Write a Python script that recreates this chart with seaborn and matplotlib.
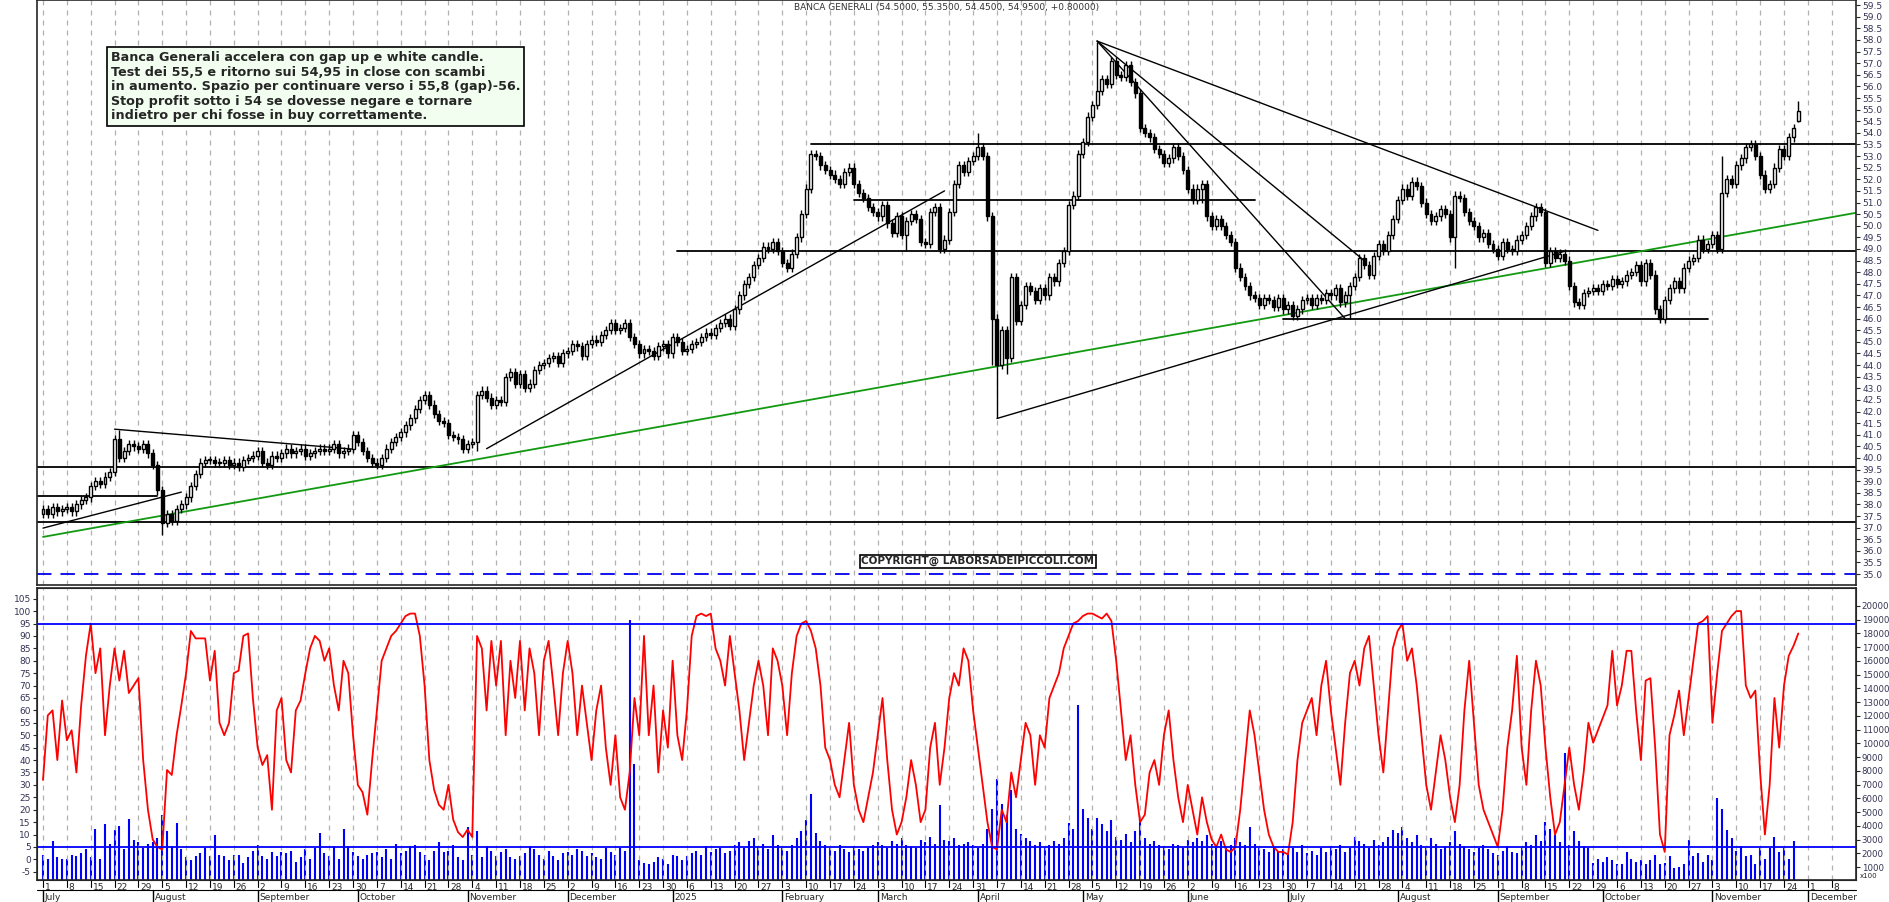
import numpy as np
import pandas as pd
import matplotlib
matplotlib.use("Agg")
import matplotlib.pyplot as plt
import seaborn as sns

sns.set_style("white")
plt.rcParams['font.family'] = ['DejaVu Sans']

# ---------------- DATA ----------------
start_date = "2024-07-01"
closes = [
 37.8,37.6,37.9,37.7,37.8, 37.9,37.7,38.0,38.2,38.3, 38.8,39.0,38.9,39.2,39.4, 40.8,40.0,40.3,40.6,40.5,
 40.4,40.6,40.2,39.7,38.6, 37.2,37.6,37.3,37.8,38.0, 38.3,38.8,39.3,39.8,39.9, 39.9,39.8,39.8,39.9,39.7,
 39.8,39.6,39.9,40.0,40.1, 40.3,39.8,39.7,40.1,40.0, 40.2,40.4,40.2,40.3,40.4, 40.1,40.2,40.3,40.4,40.3,
 40.4,40.6,40.2,40.3,40.4, 41.0,40.7,40.3,40.0,39.8, 39.7,40.0,40.4,40.7,40.9, 41.1,41.4,41.7,42.1,42.5,
 42.7,42.3,41.9,41.6,41.5, 41.0,40.9,40.8,40.4,40.6, 40.7,42.7,42.9,42.6,42.3, 42.5,42.4,43.5,43.7,43.2,
 43.6,43.0,43.2,43.8,44.0, 44.1,44.3,44.4,44.1,44.5, 44.6,44.9,44.8,44.4,44.9, 45.1,45.0,45.3,45.5,45.8,
 45.5,45.6,45.8,45.2,44.9, 44.5,44.7,44.6,44.4,44.8, 44.9,44.5,45.2,45.0,44.6,
 44.7,44.9,45.0,45.2,45.4, 45.3,45.6,45.8,46.0,45.7, 46.4,47.0,47.5,47.8,48.3, 48.6,49.1,49.0,49.3,48.9,
 48.4,48.2,48.8,49.5,50.5, 51.6,53.1,53.0,52.6,52.4, 52.2,52.0,51.8,52.3,52.5, 51.8,51.4,51.2,50.8,50.6,
 50.4,50.9,50.1,49.7,50.4, 49.6,50.2,50.5,50.3,49.3, 49.2,50.6,50.8,49.0,49.4, 50.6,51.8,52.6,52.3,52.8,
 53.0,53.4,53.0,50.4,46.0, 44.0,45.5,44.3,47.8,45.9, 46.6,47.4,47.2,46.8,47.3, 47.0,47.8,47.6,48.4,48.9,
 50.9,51.3,53.1,53.6,54.7, 55.2,55.8,56.3,56.1,57.1, 56.5,56.4,56.9,56.2,55.7, 54.2,54.0,53.8,53.3,53.1,
 52.7,52.9,53.4,53.0,52.4, 51.6,51.1,51.6,51.8,50.4, 50.0,50.3,50.0,49.6,49.3, 48.2,47.8,47.4,47.0,46.9,
 46.6,46.9,46.8,46.5,46.9, 46.4,46.6,46.1,46.4,46.8, 46.9,46.6,46.9,46.8,47.1, 47.0,47.3,46.7,47.0,47.4,
 47.8,48.6,48.3,47.9,48.7, 49.2,48.9,49.6,50.3,51.1, 51.6,51.3,51.9,51.7,51.0, 50.5,50.2,50.4,50.7,50.5,
 49.5,51.3,51.2,50.6,50.2, 50.0,49.5,49.7,49.2,49.0, 48.7,49.3,49.0,48.9,49.4, 49.6,50.0,50.4,50.8,50.6,
 48.4,48.9,48.6,48.8,48.5, 47.4,46.7,46.6,47.1,47.2, 47.3,47.2,47.5,47.4,47.7, 47.5,47.6,47.9,48.0,48.3,
 47.6,48.4,47.9,46.4,46.0, 46.8,47.3,47.6,47.3,48.2, 48.5,48.6,49.4,49.0,49.2, 49.6,49.0,51.4,52.0,51.8,
 52.6,52.9,53.4,53.5,53.0, 52.2,51.6,51.8,52.5,53.3, 53.0,53.8,54.2,54.95]
first_open = 37.6
last_high, last_low, last_open = 55.35, 54.45, 54.50
# notable wick extremes: date -> (high, low)
wick_extremes = {
    "2024-07-23": (41.2, None), "2024-08-05": (None, 36.7), "2024-11-05": (None, 40.3),
    "2025-03-11": (None, 48.9), "2025-04-01": (54.0, None), "2025-04-04": (None, 44.0),
    "2025-04-07": (None, 41.7), "2025-04-09": (None, 43.6), "2025-05-06": (57.9, None),
    "2025-06-05": (None, 51.0), "2025-07-18": (None, 46.0), "2025-08-19": (None, 48.2),
    "2025-10-17": (None, 45.8), "2025-11-05": (53.0, None),
}

osc = [
 32,58,60,40,64, 48,52,35,62,82, 95,75,85,50,70, 85,72,84,67,70, 73,40,20,8,5, 4,36,34,50,62,
 75,92,89,89,89, 72,84,55,50,55, 75,76,90,91,65, 45,38,42,20,60, 65,40,35,60,64, 75,85,90,88,80,
 85,70,60,80,75, 50,30,27,18,40, 60,80,85,90,92, 95,98,99,99,90, 70,40,28,22,20, 30,16,11,9,12,
 9,90,85,60,88, 70,88,50,80,65, 88,60,85,75,50, 80,88,70,50,75, 88,75,50,70,55, 40,60,70,45,30,
 50,25,20,35,65, 50,90,50,70,35, 60,45,80,50,40,
 60,90,98,99,98, 99,85,80,70,90, 75,60,40,55,70, 80,70,50,85,80, 70,50,75,90,95, 96,92,85,70,45,
 40,30,25,40,55, 30,20,15,25,35, 50,65,40,20,10, 15,25,40,30,15, 20,45,55,30,45, 65,75,70,85,80,
 60,45,30,15,5, 4,20,15,35,25, 40,55,50,30,50, 45,65,70,75,85, 90,95,96,98,99, 99,98,97,99,96,
 80,60,40,50,30, 15,18,35,40,30, 50,60,40,25,15, 30,20,10,25,15, 8,5,10,4,3, 5,20,40,60,50,
 35,20,10,5,3, 3,2,15,40,55, 60,65,50,70,80, 60,45,30,55,75, 80,70,85,90,70, 50,35,60,85,92,
 95,80,85,70,50, 30,20,35,50,40, 25,15,30,60,80, 55,30,20,15,10, 5,20,45,60,82, 45,30,60,80,70,
 45,25,10,15,30, 45,30,20,35,55, 47,52,57,62,84, 62,70,84,84,60, 40,72,73,45,10, 3,50,58,68,50,
 65,80,95,96,98, 55,75,92,95,98, 100,100,70,65,68, 35,10,30,65,45, 70,82,86,91]

volume = [
 1900,1600,2900,1700,1600, 1600,1900,1800,2000,2300, 1700,3800,1600,4100,2700, 3700,4000,2300,4500,3000,
 2800,2400,2700,2800,3100, 4800,3600,2500,4200,2300, 1700,1500,1800,2000,2400, 1800,3300,1900,1800,1500,
 1900,1900,1300,1700,2200, 2600,1800,1600,2100,1800, 2100,2000,2200,1400,1700, 2300,1600,2400,3500,2000,
 1800,2500,1600,3800,2500, 2100,1800,1600,1900,2000, 2100,1700,2300,1600,2700, 2000,2200,2500,2600,2100,
 1900,1500,2200,2800,2100, 2200,2600,1700,1500,3900, 1900,3600,1700,2500,2200, 1800,2100,2300,1700,1600,
 1800,2000,2500,2300,1900, 1600,2200,1800,1500,2000, 2100,1900,2300,2200,1800, 2000,1700,1600,2400,2100,
 1900,2400,2200,19000,8500, 1500,1300,1200,1400,1700, 1600,1200,1900,1800,1500,
 1800,2000,2200,1900,2500, 2100,2300,2400,2000,2200, 2600,2800,2400,2900,3100, 2500,2700,2300,3300,2600,
 2400,2200,2600,3100,3600, 4400,6300,3500,2900,2600, 2400,2200,2600,2300,2100, 2500,2300,2200,2400,2600,
 2800,2600,2400,2900,2700, 3100,2600,2500,2400,3000, 2800,3200,2700,5500,3000, 2900,3100,2600,2700,2800,
 2600,2400,2700,3800,5200, 7400,5600,4800,6600,3800, 3400,3100,2900,2600,2800, 2400,2600,2900,2700,3100,
 4200,3800,12800,5200,4600, 3800,4600,4100,3600,4400, 3200,3000,3400,2800,3600, 4500,3100,2700,2900,2600,
 2500,2300,2700,2600,2400, 3000,2800,3100,2900,3300, 2700,2500,2900,2400,2600, 3100,2800,2600,3900,2700,
 2400,2300,2100,2500,2200, 2300,2000,2400,2100,2600, 2000,2200,1900,2400,2100, 2500,2300,2600,2100,2400,
 3200,2900,2700,2400,3000, 2600,2800,3200,3700,3500, 3900,3100,2800,3300,2600, 2400,3100,2700,2300,2500,
 2800,3600,2700,2500,2300, 2100,2400,2600,2300,2000, 1900,2200,2500,2100,2000, 2400,2800,2600,3300,2900,
 4300,3800,3300,2800,9300, 2600,3600,2900,2500,2400, 1300,1600,1400,1700,1500, 1200,1200,2100,1600,1400,
 1500,1200,1500,1900,1200, 1300,1800,900,1000,1200, 3000,1800,2000,1400,1900, 1500,6000,5200,3700,3100,
 2200,2500,1800,1900,1200, 2400,1600,2400,3200,2100, 2400,1600,2900]

# annotation levels (start date, end date, price)
h_levels = [("2025-02-11", None, 53.5), ("2025-02-24", "2025-06-20", 51.1), ("2025-01-02", None, 48.9),
            ("2025-06-30", "2025-10-31", 46.0), (None, None, 39.6), (None, None, 37.25),
            (None, "2024-08-02", 38.35)]
trend_lines = [
    (("2024-06-27", 36.6), ("2025-12-20", 50.7), "green"),
    (("2024-06-27", 36.98), ("2024-08-09", 38.53), "black"),
    (("2024-07-22", 41.24), ("2024-09-30", 40.38), "black"),
    (("2024-11-07", 40.4), ("2025-03-21", 51.5), "black"),
    (("2025-04-07", 41.7), ("2025-09-19", 48.9), "black"),
    (("2025-05-06", 57.95), ("2025-09-30", 49.8), "black"),
    (("2025-05-06", 57.95), ("2025-07-23", 48.5), "black"),
    (("2025-05-06", 57.95), ("2025-07-17", 46.0), "black"),
]
note_text = ("Banca Generali accelera con gap up e white candle.\n"
             "Test dei 55,5 e ritorno sui 54,95 in close con scambi\n"
             "in aumento. Spazio per continuare verso i 55,8 (gap)-56.\n"
             "Stop profit sotto i 54 se dovesse negare e tornare\n"
             "indietro per chi fosse in buy correttamente.")
title_text = "BANCA GENERALI (54.5000, 55.3500, 54.4500, 54.9500, +0.80000)"
copyright_text = "COPYRIGHT@ LABORSADEIPICCOLI.COM"

# ---------------- PREP ----------------
n = len(closes)
dates = pd.bdate_range(start_date, periods=n + 15)
idx = np.arange(n)
c = np.array(closes, float)
o = np.concatenate([[first_open], c[:-1]])
o[-1] = last_open
hi = np.maximum(o, c) + 0.18
lo = np.minimum(o, c) - 0.18
hi[-1], lo[-1] = last_high, last_low

def d2i(d):
    return float(np.searchsorted(dates, pd.Timestamp(d)))

for d, (h, l) in wick_extremes.items():
    k = int(d2i(d))
    if k < n:
        if h is not None:
            hi[k] = max(hi[k], h)
        if l is not None:
            lo[k] = min(lo[k], l)

def fit(a):
    a = list(a)[:n]
    return a + [np.nan] * (n - len(a))

df = pd.DataFrame({"i": idx, "osc": fit(osc), "vol": fit(volume)})

W, H = 1890, 902
fig = plt.figure(figsize=(W / 100, H / 100), dpi=100)
L, R = 37 / W, 1856 / W
ax = fig.add_axes([L, 1 - 585 / H, R - L, 585 / H])
ax2 = fig.add_axes([L, 22 / H, R - L, 292 / H])
xl = (-1.26, 380.1)

mondays = [i for i, d in enumerate(dates) if d.weekday() == 0]
for a in (ax, ax2):
    for m in mondays:
        a.axvline(m, color="#b0b0b0", ls=(0, (4, 4)), lw=0.9, zorder=0)
    a.set_xlim(*xl)
    a.set_xticks([])
    for s in a.spines.values():
        s.set_linewidth(1.2)

up = c >= o
ax.vlines(idx, lo, hi, color="black", lw=1, zorder=3)
body = np.abs(c - o)
body = np.where(body < 0.04, 0.04, body)
ax.bar(idx[up], body[up], bottom=np.minimum(o, c)[up], width=0.62, color="white",
       edgecolor="black", lw=1, zorder=4)
ax.bar(idx[~up], body[~up], bottom=np.minimum(o, c)[~up], width=0.62, color="black",
       edgecolor="black", lw=1, zorder=4)

for s, e, p in h_levels:
    x0 = d2i(s) if s else xl[0]
    x1 = d2i(e) if e else xl[1]
    ax.plot([x0, x1], [p, p], color="black", lw=1.3, zorder=2)
for (d0, p0), (d1, p1), col in trend_lines:
    ax.plot([d2i(d0), d2i(d1)], [p0, p1], color="#119911" if col == "green" else "black",
            lw=1.3 if col == "green" else 1.0, zorder=2)
ax.axhline(35.0, color="#0000ee", lw=1.3, ls=(0, (8, 5)))

ax.set_ylim(34.53, 59.72)
ax.yaxis.tick_right()
ticks = np.arange(35, 59.6, 0.5)
ax.set_yticks(ticks)
ax.set_yticklabels([f"{v:.1f}" for v in ticks], fontsize=6.5, color="#333355")
ax.tick_params(axis="y", length=3, pad=1.5)

ax.text(0.5, 0.995, title_text, transform=ax.transAxes, ha="center", va="top", fontsize=6.5, color="#333333")
ax.text((111 - 37) / 1819, 1 - 51 / 585, note_text, transform=ax.transAxes, ha="left", va="top",
        fontsize=9.2, fontweight="bold", linespacing=1.15,
        bbox=dict(boxstyle="square,pad=0.3", fc="#f2fff0", ec="black", lw=1.2))
ax.text(d2i("2025-04-01"), 35.55, copyright_text, ha="center", va="center", fontsize=7.5, fontweight="bold",
        bbox=dict(boxstyle="square,pad=0.15", fc="white", ec="black", lw=1.2), zorder=6)

axv = ax2.twinx()
axv.vlines(df["i"], 0, df["vol"], color="#0000ff", lw=1.5)
axv.set_ylim(54, 21310)
axv.set_yticks(np.arange(1000, 20001, 1000))
axv.set_yticklabels([str(v) for v in range(1000, 20001, 1000)], fontsize=6.2, color="#333355")
axv.tick_params(axis="y", length=3, pad=1)
axv.set_xlim(*xl)
ax2.set_zorder(axv.get_zorder() + 1)
ax2.patch.set_visible(False)
sns.lineplot(data=df, x="i", y="osc", ax=ax2, color="#ff0000", lw=1.3)
ax2.axhline(95, color="#0000ff", lw=1.3)
ax2.axhline(5, color="#0000ff", lw=1.3)
ax2.set_ylim(-8.3, 109.3)
ax2.set_yticks(np.arange(-5, 106, 5))
ax2.set_yticklabels([str(v) for v in range(-5, 106, 5)], fontsize=6.5, color="#333355")
ax2.tick_params(axis="y", length=3, pad=1.5)
ax2.set_xlabel("")
ax2.set_ylabel("")
ax2.set_xlim(*xl)
axv.text(1.002, 0.005, "x100", transform=axv.transAxes, fontsize=5, ha="left", va="bottom")

tr = ax2.get_xaxis_transform()
for m in mondays:
    if m <= xl[1] - 3:
        ax2.text(m + 0.4, -0.01, str(dates[m].day), transform=tr, fontsize=6.5, ha="left", va="top", clip_on=False)
        ax2.plot([m, m], [0, -0.025], transform=tr, color="black", lw=0.8, clip_on=False)
months_seen = set()
for i, d in enumerate(dates):
    key = (d.year, d.month)
    if key in months_seen or i > xl[1]:
        continue
    months_seen.add(key)
    lab = "2025" if (d.year == 2025 and d.month == 1) else d.strftime("%B")
    ax2.plot([i, i], [-0.035, -0.08], transform=tr, color="black", lw=1, clip_on=False)
    ax2.text(i + 0.4, -0.045, lab, transform=tr, fontsize=6.5, ha="left", va="top", clip_on=False)
ax2.plot([xl[0], xl[1]], [-0.035, -0.035], transform=tr, color="black", lw=0.8, clip_on=False)

fig.savefig("out.png", dpi=100)
